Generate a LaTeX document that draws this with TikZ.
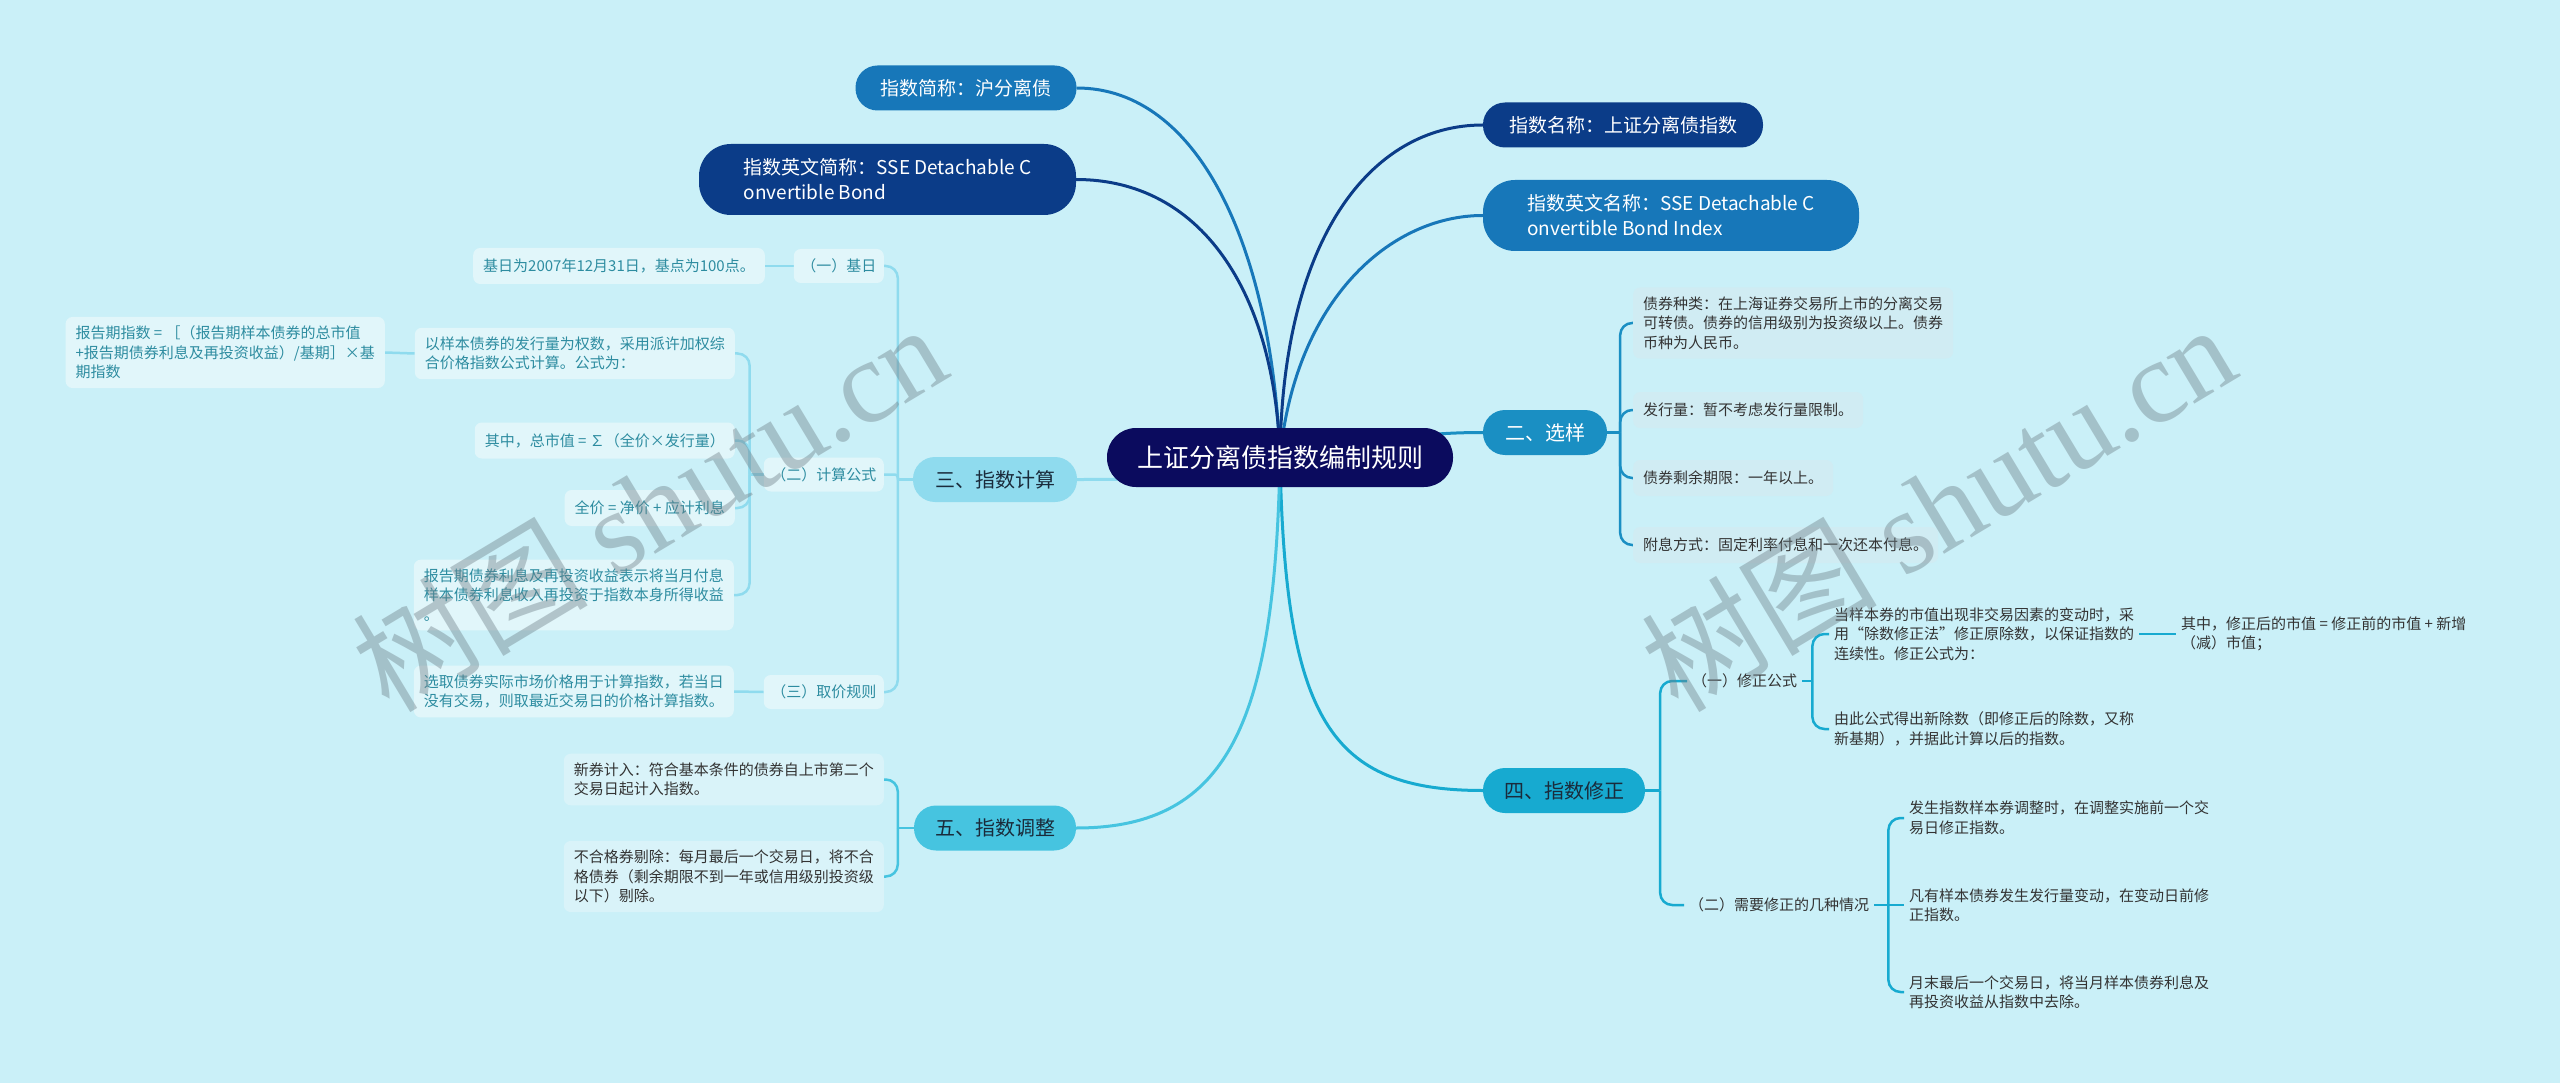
\documentclass[tikz,border=0pt]{standalone}
\usepackage{fontspec}
\setmainfont{Noto Sans CJK SC}
\newfontfamily\wmserif{Liberation Serif}
\definecolor{bgc}{HTML}{CAF0F8}
\definecolor{cnavy}{HTML}{0B0B5E}
\definecolor{cdark}{HTML}{0B3C88}
\definecolor{cmid}{HTML}{1777B9}
\definecolor{ctwo}{HTML}{1A8FC3}
\definecolor{cthree}{HTML}{8FDBEE}
\definecolor{cfour}{HTML}{17AAD0}
\definecolor{cfive}{HTML}{46C4E0}
\definecolor{colLeafA}{HTML}{D0ECF3}
\definecolor{colLeafB}{HTML}{E1F6FA}
\definecolor{colLeafC}{HTML}{D9F3F9}
\definecolor{tealtext}{HTML}{2D8CA0}
\definecolor{darktext}{HTML}{333333}
\definecolor{brtext}{HTML}{1A2B3B}
\definecolor{wmcol}{HTML}{6F8088}
\pgfdeclarelayer{bglayer}
\pgfsetlayers{bglayer,main}
\tikzset{
 leafbox/.style={font=\fontsize{15}{19.5}\selectfont, inner xsep=10pt, inner ysep=9pt, rounded corners=7pt, minimum height=36pt, align=left},
 leafAbox/.style={leafbox, fill=colLeafA, text=darktext},
 leafBbox/.style={leafbox, fill=colLeafB, text=tealtext},
 leafCbox/.style={leafbox, fill=colLeafC, text=darktext},
 subbox/.style={leafbox, fill=colLeafB, text=tealtext, inner xsep=7.5pt, minimum height=34pt},
 plaintxt/.style={font=\fontsize{15}{19.5}\selectfont, inner xsep=5pt, inner ysep=3pt, text=darktext, align=left},
 branchnode/.style={font=\fontsize{20}{24}\selectfont, minimum height=45pt, rounded corners=22pt, inner sep=0pt},
 topnode/.style={font=\fontsize{19}{25}\selectfont, text=white, align=left, inner sep=0pt},
 centernode/.style={font=\fontsize{26}{30}\selectfont, text=white, fill=cnavy, minimum width=346pt, minimum height=59pt, rounded corners=29pt, inner sep=0pt},
 conn/.style={line width=3pt},
 brk/.style={line width=2.5pt, rounded corners=12pt},
 wmark/.style={rotate=31, text=wmcol, opacity=0.42, font=\fontsize{118}{118}\selectfont},
}
\begin{document}
\begin{tikzpicture}[x=1pt,y=-1pt]
\useasboundingbox (0,0) rectangle (2560,1083);

% ---- nodes ----
\node[centernode] (c) at (1280,457.5) {上证分离债指数编制规则};

\node[topnode, fill=cmid, minimum width=221pt, minimum height=45pt, rounded corners=22pt] (t1) at (966,88) {指数简称：沪分离债};
\node[topnode, fill=cdark, minimum width=377pt, minimum height=71pt, rounded corners=32pt] (t2) at (887.5,179.5) {指数英文简称：SSE Detachable C\\onvertible Bond};
\node[topnode, fill=cdark, minimum width=280pt, minimum height=45pt, rounded corners=22pt] (t3) at (1623,125) {指数名称：上证分离债指数};
\node[topnode, fill=cmid, minimum width=376pt, minimum height=71pt, rounded corners=32pt] (t4) at (1671,215.5) {指数英文名称：SSE Detachable C\\onvertible Bond Index};

\node[branchnode, fill=ctwo, text=white, minimum width=124pt] (x2) at (1545,432.5) {二、选样};
\node[branchnode, fill=cthree, text=brtext, minimum width=164pt] (x3) at (995,479.5) {三、指数计算};
\node[branchnode, fill=cfour, text=brtext, minimum width=162pt] (x4) at (1564,790.5) {四、指数修正};
\node[branchnode, fill=cfive, text=brtext, minimum width=162pt] (x5) at (995,828) {五、指数调整};

% 二 leaves
\node[leafAbox, anchor=west] (a1) at (1633,323) {债券种类：在上海证券交易所上市的分离交易\\可转债。债券的信用级别为投资级以上。债券\\币种为人民币。};
\node[leafAbox, anchor=west] (a2) at (1633,410) {发行量：暂不考虑发行量限制。};
\node[leafAbox, anchor=west] (a3) at (1633,478) {债券剩余期限：一年以上。};
\node[leafAbox, anchor=west] (a4) at (1633,545) {附息方式：固定利率付息和一次还本付息。};

% 三 children
\node[subbox, anchor=east] (b0) at (884,266) {（一）基日};
\node[leafBbox, anchor=east] (b0a) at (765,266) {基日为2007年12月31日，基点为100点。};
\node[subbox, anchor=east] (b1) at (884,474.5) {（二）计算公式};
\node[leafBbox, anchor=east] (b1a) at (735,353.5) {以样本债券的发行量为权数，采用派许加权综\\合价格指数公式计算。公式为：};
\node[leafBbox, anchor=east] (b1a1) at (385,352.5) {报告期指数 = ［（报告期样本债券的总市值\\+报告期债券利息及再投资收益）/基期］×基\\期指数};
\node[leafBbox, anchor=east] (b1b) at (735,440.5) {其中，总市值 = ∑（全价×发行量）};
\node[leafBbox, anchor=east] (b1c) at (735,508) {全价 = 净价 + 应计利息};
\node[leafBbox, anchor=east] (b1d) at (734,595) {报告期债券利息及再投资收益表示将当月付息\\样本债券利息收入再投资于指数本身所得收益\\。};
\node[subbox, anchor=east] (b2) at (884,692) {（三）取价规则};
\node[leafBbox, anchor=east] (b2a) at (734,691.5) {选取债券实际市场价格用于计算指数，若当日\\没有交易，则取最近交易日的价格计算指数。};

% 五 children
\node[leafCbox, anchor=east] (e1) at (884,779.5) {新券计入：符合基本条件的债券自上市第二个\\交易日起计入指数。};
\node[leafCbox, anchor=east] (e2) at (884,876.5) {不合格券剔除：每月最后一个交易日，将不合\\格债券（剩余期限不到一年或信用级别投资级\\以下）剔除。};

% 四 children
\node[plaintxt, anchor=west] (d1) at (1687,681) {（一）修正公式};
\node[plaintxt, anchor=west] (d2) at (1684,905) {（二）需要修正的几种情况};
\node[plaintxt, anchor=west] (d1a) at (1829,634) {当样本券的市值出现非交易因素的变动时，采\\用“除数修正法”修正原除数，以保证指数的\\连续性。修正公式为：};
\node[plaintxt, anchor=west] (d1a1) at (2176,634) {其中，修正后的市值 = 修正前的市值 + 新增\\（减）市值；};
\node[plaintxt, anchor=west] (d1b) at (1829,729) {由此公式得出新除数（即修正后的除数，又称\\新基期），并据此计算以后的指数。};
\node[plaintxt, anchor=west] (d2a) at (1904,818) {发生指数样本券调整时，在调整实施前一个交\\易日修正指数。};
\node[plaintxt, anchor=west] (d2b) at (1904,905) {凡有样本债券发生发行量变动，在变动日前修\\正指数。};
\node[plaintxt, anchor=west] (d2c) at (1904,992) {月末最后一个交易日，将当月样本债券利息及\\再投资收益从指数中去除。};

% ---- connectors ----
\begin{pgfonlayer}{bglayer}
\fill[bgc] (0,0) rectangle (2560,1083);
\draw[conn, cmid] (t1.east) .. controls (1200,88) and (1272,250) .. (c.center);
\draw[conn, cdark] (t2.east) .. controls (1200,179.5) and (1275,290) .. (c.center);
\draw[conn, cdark] (c.center) .. controls (1282,240) and (1370,125) .. (t3.west);
\draw[conn, cmid] (c.center) .. controls (1295,300) and (1390,215.5) .. (t4.west);
\draw[conn, ctwo] (c.center) .. controls (1380,440) and (1420,432.5) .. (x2.west);
\draw[conn, cthree] (c.center) .. controls (1180,479.5) and (1140,479.5) .. (x3.east);
\draw[conn, cfour] (c.center) .. controls (1285,720) and (1330,790.5) .. (x4.west);
\draw[conn, cfive] (c.center) .. controls (1275,720) and (1230,828) .. (x5.east);

% 二 bracket
\draw[brk, ctwo] (x2.east) -- ++(13,0) coordinate (k2);
\foreach \n in {a1,a2,a3,a4} \draw[brk, ctwo] (k2) |- (\n.west);

% 三 bracket
\draw[brk, cthree] (x3.west) -- ++(-15,0) coordinate (k3);
\draw[brk, cthree] (k3) |- (b0.east);
\draw[brk, cthree, rounded corners=3pt] (k3) |- (b1.east);
\draw[brk, cthree] (k3) |- (b2.east);
\draw[brk, cthree] (b0.west) -- (b0a.east);
\draw[brk, cthree] (b1.west) -- ++(-14,0) coordinate (k31);
\foreach \n in {b1a,b1b,b1c,b1d} \draw[brk, cthree] (k31) |- (\n.east);
\draw[brk, cthree] (b1a.west) -- (b1a1.east);
\draw[brk, cthree] (b2.west) -- (b2a.east);

% 五 bracket
\draw[brk, cfive] (x5.west) -- ++(-16,0) coordinate (k5);
\foreach \n in {e1,e2} \draw[brk, cfive] (k5) |- (\n.east);

% 四 bracket
\draw[brk, cfour] (x4.east) -- ++(15,0) coordinate (k4);
\foreach \n in {d1,d2} \draw[brk, cfour] (k4) |- (\n.west);
\draw[brk, cfour] (d1.east) -- ++(10,0) coordinate (k41);
\foreach \n in {d1a,d1b} \draw[brk, cfour] (k41) |- (\n.west);
\draw[brk, cfour] (d1a.east) -- (d1a1.west);
\draw[brk, cfour] (d2.east) -- ++(14,0) coordinate (k42);
\draw[brk, cfour] (k42) |- (d2a.west);
\draw[brk, cfour] (k42) -- (d2b.west);
\draw[brk, cfour] (k42) |- (d2c.west);
\end{pgfonlayer}

% ---- watermarks ----
\node[wmark] (wm1) at (649,506) {树图 {\wmserif shutu.cn}};
\node[wmark] (wm2) at (1938,506) {树图 {\wmserif shutu.cn}};
\end{tikzpicture}
\end{document}
